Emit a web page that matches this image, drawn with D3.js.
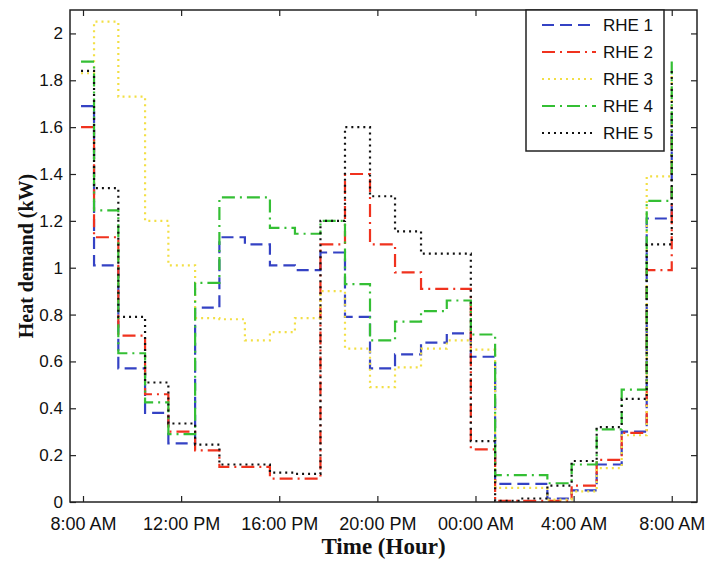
<!DOCTYPE html>
<html>
<head>
<meta charset="utf-8">
<script src="https://cdn.jsdelivr.net/npm/d3@7"></script>
<style>
body { margin: 0; background: #fff; }
text { font-family: "Liberation Sans", Arial, sans-serif; }
.title { font-family: "Liberation Serif", "Times New Roman", serif; font-weight: bold; }
</style>
</head>
<body>
<div id="chart"></div>
<script>
// step edges in hours after 8:00 AM
var stepHours = [-0.08, 0.45, 1.44, 2.53, 3.48, 4.57, 5.56, 6.60, 7.62, 8.64, 9.68, 10.68, 11.70,
                 12.72, 13.78, 14.83, 15.81, 16.80, 17.84, 18.93, 19.92, 20.94, 21.96, 22.98, 24.0];

var rhe1 = [1.69, 1.01, 0.57, 0.38, 0.25, 0.83, 1.13, 1.10, 1.01, 0.99, 1.065, 0.79, 0.57,
            0.63, 0.68, 0.72, 0.62, 0.077, 0.077, 0.015, 0.05, 0.16, 0.30, 1.21, 1.69];
var rhe2 = [1.60, 1.13, 0.71, 0.46, 0.30, 0.22, 0.15, 0.15, 0.10, 0.10, 1.10, 1.40, 1.10,
            0.98, 0.91, 0.91, 0.225, 0.005, 0.005, 0.005, 0.07, 0.18, 0.295, 0.99, 1.60];
var rhe3 = [1.83, 2.05, 1.73, 1.20, 1.01, 0.785, 0.78, 0.69, 0.725, 0.785, 0.90, 0.655, 0.49,
            0.575, 0.655, 0.69, 0.65, 0.06, 0.06, 0.01, 0.045, 0.145, 0.285, 1.39, 1.83];
var rhe4 = [1.88, 1.245, 0.635, 0.425, 0.29, 0.935, 1.30, 1.30, 1.17, 1.145, 1.20, 0.93, 0.69,
            0.77, 0.815, 0.86, 0.715, 0.115, 0.115, 0.08, 0.16, 0.31, 0.48, 1.285, 1.88];
var rhe5 = [1.84, 1.34, 0.79, 0.51, 0.335, 0.245, 0.16, 0.16, 0.125, 0.12, 1.20, 1.60, 1.305,
            1.155, 1.06, 1.06, 0.26, 0.005, 0.015, 0.07, 0.175, 0.32, 0.44, 1.10, 1.84];

var seriesNames = ["RHE 1", "RHE 2", "RHE 3", "RHE 4", "RHE 5"];
var seriesValues = [rhe1, rhe2, rhe3, rhe4, rhe5];

var xTickHours = [0, 4, 8, 12, 16, 20, 24];
var xTickLabels = ["8:00 AM", "12:00 PM", "16:00 PM", "20:00 PM", "00:00 AM", "4:00 AM", "8:00 AM"];
var yTicks = [0, 0.2, 0.4, 0.6, 0.8, 1, 1.2, 1.4, 1.6, 1.8, 2];

function stepChart(){
    // Defaults
    var width = 708;
    var height = 562;
    var margin = {top: 10, right: 11, bottom: 60, left: 70};
    var styles = [
        {color: "#3442c4", dash: "12,6"},
        {color: "#f0321e", dash: "13,5,2,5"},
        {color: "#f2df45", dash: "2,4"},
        {color: "#34bf34", dash: "13,5,2,5"},
        {color: "#111111", dash: "2,4"}
    ];

    function chart(selection){
        selection.each(function(data){
            var svg = d3.select(this).append("svg").attr("width", width).attr("height", height);
            var x0 = margin.left, x1 = width - margin.right;
            var y0 = height - margin.bottom, y1 = margin.top;

            var x = d3.scaleLinear().domain([-0.53, 25.03]).range([x0, x1]);
            var y = d3.scaleLinear().domain([0, 2.1]).range([y0, y1]);

            var g = svg.append("g");

            // bottom + top axes (ticks inward)
            var xAxis = d3.axisBottom(x).tickValues(xTickHours).tickSize(-6)
                .tickFormat(function(d, i){ return xTickLabels[i]; });
            var xa = g.append("g").attr("transform", "translate(0," + y0 + ")").call(xAxis);
            xa.selectAll("text").attr("dy", null).attr("y", 28).style("font-size", "18px").attr("fill", "#111");
            g.append("g").attr("transform", "translate(0," + y1 + ")")
                .call(d3.axisTop(x).tickValues(xTickHours).tickSize(-6).tickFormat(""));

            var yAxis = d3.axisLeft(y).tickValues(yTicks).tickSize(-6).tickPadding(7)
                .tickFormat(function(d){ return d3.format("")(+d.toFixed(1)); });
            var ya = g.append("g").attr("transform", "translate(" + x0 + ",0)").call(yAxis);
            ya.selectAll("text").style("font-size", "17px").attr("fill", "#111");
            g.append("g").attr("transform", "translate(" + x1 + ",0)")
                .call(d3.axisRight(y).tickValues(yTicks).tickSize(-6).tickFormat(""));

            g.selectAll(".domain").remove();
            g.selectAll(".tick line").attr("stroke", "#222").attr("stroke-width", 1.2);

            // step lines
            var line = d3.line()
                .x(function(d){ return x(d[0]); })
                .y(function(d){ return y(d[1]); })
                .curve(d3.curveStepAfter);

            svg.selectAll("path.series")
                .data(data)
                .enter()
                .append("path")
                .attr("class", "series")
                .attr("fill", "none")
                .attr("stroke", function(d, i){ return styles[i].color; })
                .attr("stroke-dasharray", function(d, i){ return styles[i].dash; })
                .attr("stroke-width", 2.2)
                .attr("d", function(d){
                    return line(d.values.map(function(v, k){ return [stepHours[k], v]; }));
                });

            // frame
            svg.append("rect")
                .attr("x", x0).attr("y", y1)
                .attr("width", x1 - x0).attr("height", y0 - y1)
                .attr("fill", "none").attr("stroke", "#222").attr("stroke-width", 1.5);

            // legend
            var lg = svg.append("g").attr("transform", "translate(526," + y1 + ")");
            lg.append("rect").attr("width", 138).attr("height", 141)
                .attr("fill", "#fff").attr("stroke", "#222").attr("stroke-width", 1.5);
            var items = lg.selectAll("g.item")
                .data(data)
                .enter()
                .append("g")
                .attr("class", "item")
                .attr("transform", function(d, i){ return "translate(0," + (15 + i * 27) + ")"; });
            items.append("line")
                .attr("x1", 16).attr("x2", 70)
                .attr("stroke", function(d, i){ return styles[i].color; })
                .attr("stroke-dasharray", function(d, i){ return styles[i].dash; })
                .attr("stroke-width", 2.2);
            items.append("text")
                .attr("x", 77).attr("y", 6)
                .style("font-size", "17px").attr("fill", "#111")
                .text(function(d){ return d.name; });

            // axis titles
            svg.append("text").attr("class", "title")
                .attr("x", (x0 + x1) / 2).attr("y", 554)
                .attr("text-anchor", "middle")
                .style("font-size", "23px").attr("fill", "#111")
                .text("Time (Hour)");
            svg.append("text").attr("class", "title")
                .attr("transform", "translate(33," + ((y0 + y1) / 2) + ") rotate(-90)")
                .attr("text-anchor", "middle")
                .style("font-size", "20px").attr("fill", "#111")
                .text("Heat demand (kW)");
        });
    }

    chart.width = function(v){
        if(!arguments.length) return width;
        width = v;
        return chart;
    }

    chart.height = function(v){
        if(!arguments.length) return height;
        height = v;
        return chart;
    }

    return chart;
}

var series = seriesNames.map(function(n, i){ return {name: n, values: seriesValues[i]}; });
d3.select("#chart").datum(series).call(stepChart());
</script>
</body>
</html>
